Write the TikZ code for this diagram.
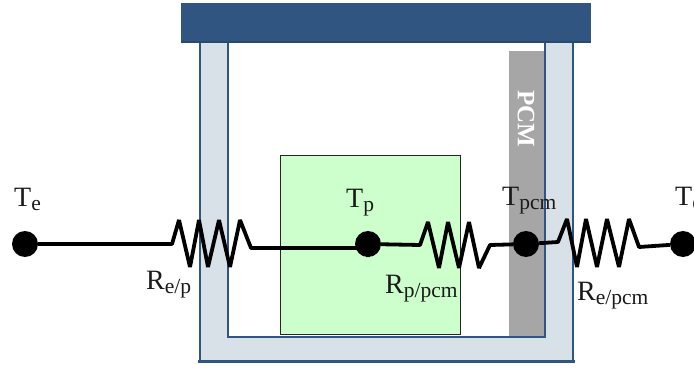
\documentclass[tikz,border=0pt]{standalone}
\usepackage{fontspec}
\setmainfont{Liberation Serif}
\definecolor{wallblue}{HTML}{2F5580}
\definecolor{walldark}{HTML}{274A70}
\definecolor{wallfill}{HTML}{D8E0E8}
\definecolor{pcmgrey}{HTML}{A6A6A6}
\definecolor{pcbgreen}{HTML}{CCFFCC}
\definecolor{inktext}{HTML}{1A1A1A}
\newcommand{\lbl}[2]{{\fontsize{28}{32}\selectfont #1\raisebox{-4pt}{\fontsize{21.5}{24}\selectfont #2}}}
\tikzset{
  wire/.style={draw=black,line width=3.8pt,line join=bevel},
  junction/.style={circle,fill=black,minimum size=26pt,inner sep=0pt},
  tlabel/.style={anchor=base west,inner sep=0pt,text=inktext},
}
\begin{document}
\begin{tikzpicture}[x=1pt,y=-1pt]
\useasboundingbox (0,0) rectangle (694,369);
% enclosure
\path[fill=wallfill] (200,42) -- (228,42) -- (228,337) -- (545,337) -- (545,42) -- (573,42) -- (573,361) -- (200,361) -- cycle;
\node[draw=none,fill=pcmgrey,minimum width=36pt,minimum height=286pt,inner sep=0pt,anchor=north west] (pcm) at (509,51) {};
\draw[wallblue,line width=2pt] (200,42) -- (200,361);
\draw[wallblue,line width=2pt] (228,42) -- (228,337) -- (545,337) -- (545,42);
\draw[wallblue,line width=2pt] (573,42) -- (573,361);
\draw[wallblue,line width=3.5pt] (198,361.5) -- (575,361.5);
\node[fill=wallblue,minimum width=410pt,minimum height=39.5pt,inner sep=0pt,anchor=north west] (lid) at (181,3) {};
\draw[walldark,line width=1.5pt] (lid.south west) ++(0,-1) -- ([yshift=1pt]lid.south east);
\node[rotate=-90,text=white,font=\fontsize{25}{28}\selectfont\bfseries,inner sep=0pt] (pcmtext) at (526,119) {PCM};
% green block
\node[draw=black!85,fill=pcbgreen,line width=1.4pt,minimum width=180.5pt,minimum height=179pt,inner sep=0pt,anchor=north west] (block) at (279.5,155) {};
% junctions
\node[junction] (te1) at (25,244) {};
\node[junction] (tp) at (368,244) {};
\node[junction] (tpcm) at (526,244) {};
\node[junction] (te2) at (683,244) {};
% resistors
\draw[wire] (te1) -- (172,244) -- (179,220) -- (190,267) -- (199,220) -- (208,267) -- (219,220) -- (230,267) -- (240,220) -- (251,248) -- (tp.center |- 0,248) -- (tp);
\draw[wire] (tp) -- (420,245) -- (428,222) -- (439,268) -- (448,222) -- (459,268) -- (469,222) -- (479,268) -- (490,245) -- (tpcm);
\draw[wire] (tpcm) -- (558,242) -- (567,219) -- (577,267) -- (586,219) -- (597,267) -- (607,219) -- (619,267) -- (629,219) -- (639,247) -- (te2);
% labels
\node[tlabel] (l1) at (14,206) {\lbl{T}{e}};
\node[tlabel] (l2) at (346,207) {\lbl{T}{p}};
\node[tlabel] (l3) at (502,205) {\lbl{T}{pcm}};
\node[tlabel] (l4) at (675,205) {\lbl{T}{e}};
\node[tlabel] (l5) at (146,289) {\lbl{R}{e/p}};
\node[tlabel] (l6) at (385,293) {\lbl{R}{p/pcm}};
\node[tlabel] (l7) at (577,300) {\lbl{R}{e/pcm}};
\end{tikzpicture}
\end{document}
